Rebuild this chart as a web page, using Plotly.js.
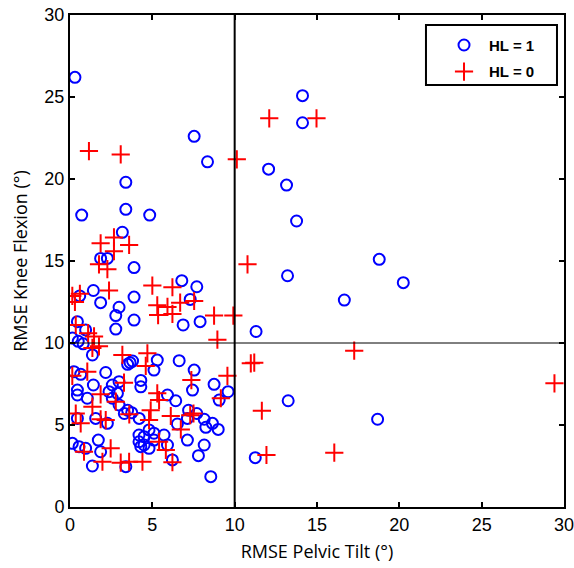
<!DOCTYPE html>
<html>
<head>
<meta charset="utf-8">
<script src="https://cdn.plot.ly/plotly-3.0.1.min.js"></script>
<style>html,body{margin:0;padding:0;background:#fff;}#chart{width:574px;height:568px;}</style>
</head>
<body>
<div id="chart"></div>
<script>
// HL = 1 (blue circles)
const hl1X = [0.3,7.54,8.35,3.39,0.71,3.39,4.84,3.18,1.86,2.27,3.89,1.42,6.79,7.7,0.59,1.86,3.89,7.3,2.98,2.78,3.89,2.78,6.87,7.9,11.3,0.45,0.95,0.14,0.5,0.8,
  14.12,14.12,12.06,13.15,13.76,18.78,13.21,20.24,16.66,13.25,18.68,11.25,
  1.36,3.5,3.65,3.8,5.3,5.1,6.63,7.54,8.75,7.44,9.6,0.24,0.65,2.17,1.42,0.45,0.45,2.57,2.98,4.3,4.3,2.37,2.88,1.05,2.57,2.98,5.92,6.42,9.06,
  0.45,1.56,2.27,3.5,3.3,3.75,4.2,6.52,7.13,7.2,7.7,8.15,8.25,8.65,9.0,7.13,8.15,7.8,8.55,
  4.19,4.5,4.8,5.1,4.19,4.5,4.8,5.1,4.3,5.71,5.92,6.22,0.14,0.55,0.95,1.72,1.86,1.36,3.39];
const hl1Y = [26.2,22.6,21.05,19.8,17.8,18.15,17.8,16.75,15.16,15.16,14.6,13.2,13.8,13.43,12.87,12.46,12.8,12.66,12.18,11.67,11.4,10.85,11.1,11.3,10.7,11.3,10.8,10.3,10.1,9.95,
  25.08,23.43,20.6,19.63,17.44,15.1,14.1,13.68,12.62,6.48,5.35,3.01,
  9.27,8.7,8.8,8.9,8.96,8.35,8.92,8.35,7.48,7.13,7.03,8.25,8.09,8.2,7.44,7.13,6.83,7.44,7.64,7.72,7.33,7.03,6.93,6.63,6.63,6.22,6.83,6.48,6.52,
  5.4,5.4,5.1,5.9,5.7,5.75,5.4,5.06,5.4,5.9,5.7,5.35,4.86,5.1,4.73,4.08,3.78,3.13,1.85,
  4.39,4.29,4.7,4.5,3.98,3.78,3.58,4.08,3.68,4.39,3.78,2.87,3.88,3.68,3.58,4.08,3.37,2.5,2.46];
// HL = 0 (red crosses)
const hl0X = [1.15,3.08,10.13,12.1,14.97,1.86,2.67,3.59,2.67,1.76,2.27,10.78,2.37,5.0,6.22,0.14,0.6,0.3,5.3,5.92,6.69,7.54,5.35,6.22,8.75,9.92,8.95,0.35,1.1,1.46,
  1.36,1.76,3.18,4.7,4.6,9.56,7.37,0.14,1.05,3.28,1.86,2.78,5.3,5.41,9.16,1.36,0.35,0.65,1.86,2.17,3.6,4.9,4.8,6.12,6.73,7.3,7.5,5.41,5.82,6.22,0.85,2.47,1.97,3.08,3.59,4.4,
  17.26,10.98,11.19,29.42,11.65,16.05,11.93];
const hl0Y = [21.7,21.5,21.2,23.7,23.7,16.08,16.44,15.98,15.6,14.8,14.5,14.8,13.2,13.5,13.4,12.87,13.0,12.5,12.3,12.2,12.46,12.56,11.7,11.77,11.67,11.67,10.2,11.1,10.6,10.4,
  9.7,9.8,9.27,9.37,8.6,8.0,7.74,8.0,8.25,7.58,6.87,6.42,6.93,6.52,6.63,6.12,5.7,5.1,5.35,5.3,5.65,5.9,5.3,5.55,4.73,5.6,5.7,3.98,3.48,2.73,3.37,3.58,2.76,2.7,2.76,2.76,
  9.53,8.76,8.8,7.54,5.87,3.31,3.17];
const seriesNames = ["HL = 1", "HL = 0"];
const axisTicks = [0,5,10,15,20,25,30];
const threshold = 10;

const tickFont = {family: "Liberation Sans Narrow, Liberation Sans, Arial, sans-serif", size: 18, color: "#000"};
const titleFont = {family: "Open Sans, Liberation Sans, sans-serif", size: 18, color: "#000"};
const traces = [
  {x: hl1X, y: hl1Y, name: seriesNames[0], legendgroup: "g1", type: "scatter", mode: "markers",
   marker: {symbol: "circle-open", size: 11, color: "#0000ff", line: {width: 2, color: "#0000ff"}}},
  {x: hl0X, y: hl0Y, name: seriesNames[1], legendgroup: "g0", type: "scatter", mode: "markers",
   marker: {symbol: "cross-thin-open", size: 13, color: "#ff0000", line: {width: 2, color: "#ff0000"}}}
];
const axisBase = {range: [0, 30], tickvals: axisTicks, ticktext: axisTicks.map(String), ticks: "inside", ticklen: 5, tickwidth: 2, tickcolor: "#000",
  showline: true, linewidth: 2, linecolor: "#000", mirror: "ticks", showgrid: false, zeroline: false, tickfont: tickFont, automargin: false,
  ticklabeloverflow: "allow"};
const layout = {
  width: 574, height: 568,
  margin: {l: 70, r: 10, t: 15, b: 61},
  paper_bgcolor: "#fff", plot_bgcolor: "#fff",
  font: titleFont,
  showlegend: true,
  legend: {x: 0.747, y: 0.972, xanchor: "left", yanchor: "top", borderwidth: 0, bgcolor: "rgba(0,0,0,0)",
    traceorder: "grouped", tracegroupgap: 4,
    font: {family: "Liberation Sans, Arial, sans-serif", size: 15, color: "#000", weight: "bold"}, itemwidth: 40},
  xaxis: Object.assign({}, axisBase, {title: {text: "RMSE Pelvic Tilt (°)", font: titleFont, standoff: 12}}),
  yaxis: Object.assign({}, axisBase, {title: {text: "RMSE Knee Flexion (°)", font: titleFont, standoff: 12}}),
  shapes: [
    {type: "line", xref: "x", yref: "paper", x0: threshold, x1: threshold, y0: 0, y1: 1, line: {color: "#000", width: 2}},
    {type: "line", xref: "paper", yref: "y", x0: 0, x1: 1, y0: threshold, y1: threshold, line: {color: "#000", width: 1}},
    {type: "rect", xref: "paper", yref: "paper", x0: 0.7206, x1: 0.9858, y0: 0.8577, y1: 0.9797, line: {color: "#000", width: 2}, fillcolor: "rgba(0,0,0,0)", layer: "above"}
  ]
};
Plotly.newPlot("chart", traces, layout, {staticPlot: true, displayModeBar: false});
</script>
</body>
</html>
